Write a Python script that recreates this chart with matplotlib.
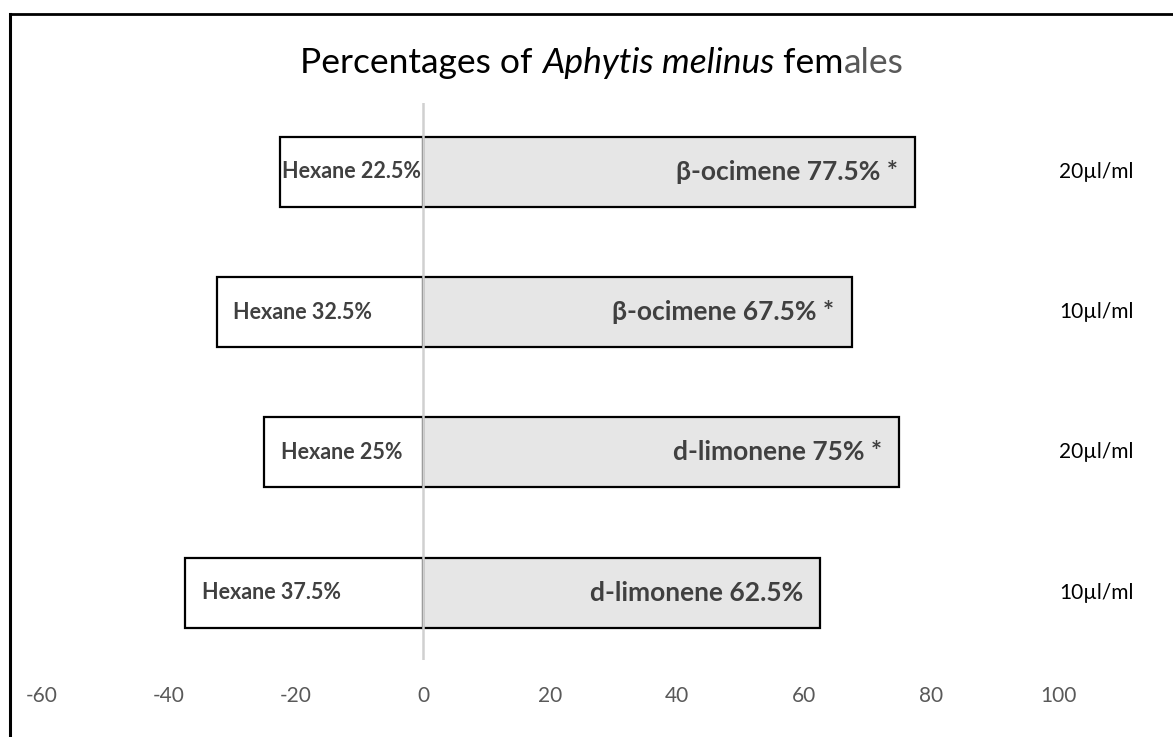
import matplotlib
matplotlib.use('Agg')
import matplotlib.pyplot as plt
from matplotlib.lines import Line2D

plt.rcParams['font.family'] = ['Lato', 'DejaVu Sans']
plt.rcParams['axes.unicode_minus'] = False

# bars from bottom to top
treatment = ['d-limonene', 'd-limonene', 'β-ocimene', 'β-ocimene']
dose = ['10µl/ml', '20µl/ml', '10µl/ml', '20µl/ml']
volatile_pct = [62.5, 75, 67.5, 77.5]
hexane_pct = [37.5, 25, 32.5, 22.5]
significant = [False, True, True, True]
hexane_label_shift = [-32, -2, -17, 0]   # pixels, as the labels were nudged

W, H = 1173, 737
fig = plt.figure(figsize=(W / 100, H / 100), dpi=100)
ax = fig.add_axes([42 / W, (H - 660) / H, (1058 - 42) / W, (660 - 103) / H])

y = list(range(len(treatment)))
ax.barh(y, volatile_pct, height=0.5, color='#e6e6e6', edgecolor='black', linewidth=1.6, zorder=2)
ax.barh(y, [-v for v in hexane_pct], height=0.5, color='white', edgecolor='black', linewidth=1.6, zorder=2)
ax.axvline(0, color='#d0d0d0', linewidth=1.8, zorder=3)

ax.set_xlim(-60, 100)
ax.set_ylim(-0.48, 3.49)
ax.set_xticks(range(-60, 101, 20))
ax.set_yticks([])
ax.tick_params(axis='x', length=0, pad=19, labelsize=15, labelcolor='#595959')
for s in ax.spines.values():
    s.set_visible(False)

for i in y:
    txt = f'{treatment[i]} {volatile_pct[i]:g}%' + (' *' if significant[i] else '')
    ax.annotate(txt, (volatile_pct[i], i), xytext=(-17 * 0.72, 0), textcoords='offset points',
                ha='right', va='center', fontsize=19, fontweight='bold', color='#404040', zorder=4)
    ax.annotate(f'Hexane {hexane_pct[i]:g}%', (-hexane_pct[i] / 2, i),
                xytext=(hexane_label_shift[i] * 0.72, 0), textcoords='offset points',
                ha='center', va='center', fontsize=15.5, fontweight='bold', color='#404040', zorder=4)
    ax.annotate(dose[i], (1.0, i), xycoords=('axes fraction', 'data'),
                xytext=(1, 0), textcoords='offset points',
                ha='left', va='center', fontsize=15, color='black')

# title built from pieces: italic species name, grey tail
pieces = [('Percentages of ', 'normal', 'black'),
          ('Aphytis melinus', 'italic', 'black'),
          (' fem', 'normal', 'black'),
          ('ales', 'normal', '#595959')]
renderer = fig.canvas.get_renderer()
texts = []
for s, style, c in pieces:
    t = fig.text(0, 1 - 63 / H, s, fontsize=25.5, style=style, color=c, va='center', ha='left')
    texts.append(t)
widths = [t.get_window_extent(renderer).width for t in texts]
x0 = 602 - sum(widths) / 2
for t, w in zip(texts, widths):
    t.set_x(x0 / W)
    x0 += w

# chart frame (only top and left edges are visible)
fig.add_artist(Line2D([10 / W, 1], [1 - 13.5 / H, 1 - 13.5 / H], color='black', linewidth=2))
fig.add_artist(Line2D([10 / W, 10 / W], [0, 1 - 13.5 / H], color='black', linewidth=2.2))

fig.savefig('out.png', dpi=100)
